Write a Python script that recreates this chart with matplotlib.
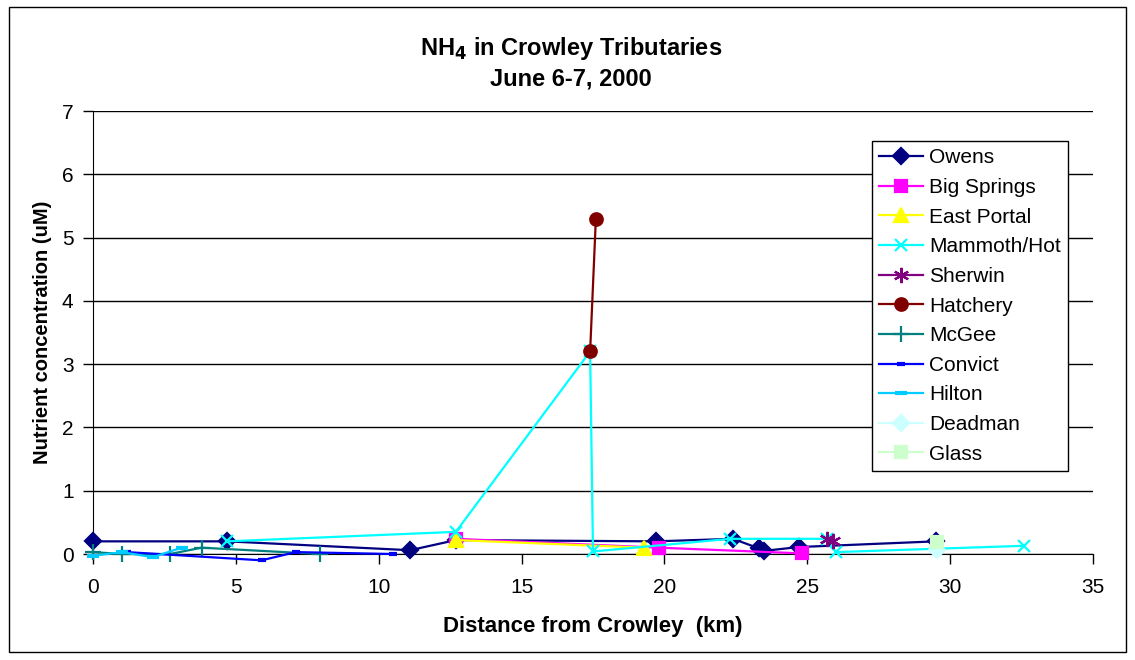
import matplotlib.pyplot as plt
from matplotlib.patches import Rectangle

plt.rcParams['font.family'] = ['Liberation Sans', 'DejaVu Sans']

# данные по притокам: расстояние от Кроули [km] и концентрация NH4 [uM]
owens_x = [0.0, 4.7, 11.1, 12.7, 19.7, 22.4, 23.3, 23.5, 24.7, 29.5]
owens_y = [0.20, 0.20, 0.06, 0.22, 0.20, 0.24, 0.09, 0.05, 0.11, 0.20]
big_springs_x = [12.7, 19.8, 24.8]
big_springs_y = [0.24, 0.10, 0.01]
east_portal_x = [12.7, 19.3]
east_portal_y = [0.22, 0.10]
mammoth_x = [4.7, 12.7, 17.4, 17.5, 22.3, 25.7, 26.0, 32.6]
mammoth_y = [0.20, 0.35, 3.20, 0.04, 0.24, 0.24, 0.03, 0.13]
sherwin_x = [25.7, 25.9]
sherwin_y = [0.23, 0.20]
hatchery_x = [17.4, 17.6]
hatchery_y = [3.20, 5.29]
mcgee_x = [0.0, 1.0, 2.7, 3.8, 7.95]
mcgee_y = [0.03, 0.00, 0.00, 0.10, 0.00]
convict_x = [1.2, 5.9, 7.1, 10.5]
convict_y = [0.03, -0.10, 0.03, 0.00]
hilton_x = [0.0, 1.0, 2.1, 3.1]
hilton_y = [-0.03, 0.03, -0.05, 0.10]
deadman_x = [29.55]
deadman_y = [0.06]
glass_x = [29.55]
glass_y = [0.19]

series = [
    ("Owens", owens_x, owens_y, "#000080", "D", 8.5),
    ("Big Springs", big_springs_x, big_springs_y, "#FF00FF", "s", 8.5),
    ("East Portal", east_portal_x, east_portal_y, "#FFFF00", "^", 10),
    ("Mammoth/Hot", mammoth_x, mammoth_y, "#00FFFF", "x", 9),
    ("Sherwin", sherwin_x, sherwin_y, "#800080", (6, 2, 0), 11),
    ("Hatchery", hatchery_x, hatchery_y, "#800000", "o", 9),
    ("McGee", mcgee_x, mcgee_y, "#008080", "+", 11),
    ("Convict", convict_x, convict_y, "#0000FF", "_", 6),
    ("Hilton", hilton_x, hilton_y, "#00CCFF", "_", 9),
    ("Deadman", deadman_x, deadman_y, "#CCFFFF", "D", 8.5),
    ("Glass", glass_x, glass_y, "#CCFFCC", "s", 9),
]

fig = plt.figure(figsize=(11.35, 6.6), dpi=100)
ax = fig.add_axes([0.0819, 0.1606, 0.8811, 0.6712])

for name, xs, ys, col, mk, ms in series:
    mew = 3 if mk == "_" else 1.6
    ax.plot(xs, ys, color=col, marker=mk, markersize=ms, linewidth=1.6,
            markeredgewidth=mew, label=name, clip_on=False, zorder=3)

ax.set_xlim(0, 35)
ax.set_ylim(0, 7)
ax.set_xticks(range(0, 36, 5))
ax.set_yticks(range(0, 8))
ax.grid(axis='y', color='black', linewidth=1)
ax.set_axisbelow(True)
for s in ('top', 'right'):
    ax.spines[s].set_visible(False)
ax.tick_params(direction='out', length=7, labelsize=15, width=1)
ax.tick_params(axis='x', pad=10)
ax.tick_params(axis='y', pad=7)

ax.set_xlabel("Distance from Crowley  (km)", fontsize=16, fontweight='bold', labelpad=14)
ax.set_ylabel("Nutrient concentration (uM)", fontsize=14.5, fontweight='bold', labelpad=7)

fig.text(0.503, 0.927, r"NH$_\mathbf{4}$ in Crowley Tributaries", ha='center', va='center',
         fontsize=17, fontweight='bold')
fig.text(0.503, 0.880, "June 6-7, 2000", ha='center', va='center', fontsize=17, fontweight='bold')

leg = ax.legend(loc='upper right', bbox_to_anchor=(0.975, 0.932), fontsize=15,
                frameon=True, fancybox=False, edgecolor='black', framealpha=1,
                handlelength=2.1, labelspacing=0.51, borderpad=0.35, handletextpad=0.3,
                borderaxespad=0)
leg.get_frame().set_linewidth(1)

# рамка вокруг всей диаграммы
fig.patches.append(Rectangle((0.008, 0.012), 0.984, 0.978, transform=fig.transFigure,
                             fill=False, edgecolor='black', linewidth=1))

fig.savefig("out.png", dpi=100)
